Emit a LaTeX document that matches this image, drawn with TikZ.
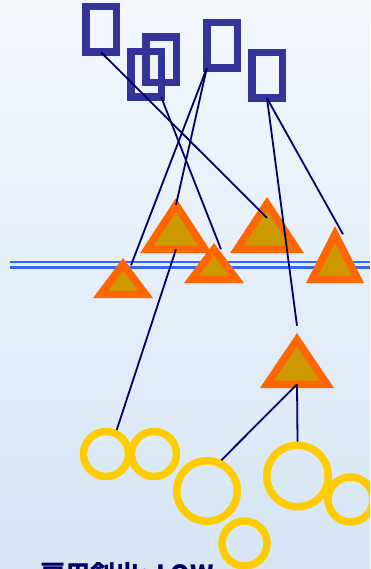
\documentclass[tikz,border=0pt]{standalone}
\usepackage{fontspec}
\newfontfamily\jpfont{Noto Sans CJK JP}
\usetikzlibrary{shapes.geometric,calc}

\definecolor{sqnavy}{HTML}{333399}
\definecolor{linknavy}{HTML}{000066}
\definecolor{triorange}{HTML}{FF6600}
\definecolor{trigold}{HTML}{CC9900}
\definecolor{ringgold}{HTML}{FFCC00}
\definecolor{railblue}{HTML}{3366FF}
\definecolor{bgtop}{HTML}{F3F7FC}
\definecolor{bgbot}{HTML}{D6E6F5}

\begin{document}
\begin{tikzpicture}[
  x=1pt, y=-1pt,
  sq/.style={draw=sqnavy, line width=7.5pt, inner sep=0pt, outer sep=0pt,
             minimum width=30.5pt, minimum height=45.5pt},
  tri/.style={isosceles triangle, shape border rotate=90,
              isosceles triangle stretches, draw=triorange, fill=trigold,
              line width=7.5pt, inner sep=0pt, outer sep=0pt, anchor=apex},
  ring/.style={circle, draw=ringgold, line width=7.5pt, inner sep=0pt},
  link/.style={draw=linknavy, line width=1.8pt},
  rail/.style={draw=railblue, line width=2.7pt},
]
\useasboundingbox (0,0) rectangle (370,569);
\clip (0,0) rectangle (370,569);
\shade[top color=bgtop, bottom color=bgbot] (0,0) rectangle (370,569);

% double rail
\draw[rail] (10,262) -- (370,262);
\draw[rail] (10,267.3) -- (370,267.3);

% squares
\node[sq] (r1) at (101,29.5) {};
\node[sq] (r2) at (146,74.5) {};
\node[sq] (r3) at (161,60) {};
\node[sq] (r4) at (222,45.5) {};
\node[sq] (r5) at (267,75.5) {};

% triangles
\node[tri, minimum width=45pt, minimum height=30pt] (t1) at (123,264.3) {};
\node[tri, minimum width=58pt, minimum height=44.4pt] (t2) at (176,204.9) {};
\node[tri, minimum width=45pt, minimum height=30pt] (t3) at (214,249.3) {};
\node[tri, minimum width=60pt, minimum height=45.5pt] (t4) at (267,203.8) {};
\node[tri, minimum width=45.8pt, minimum height=45pt] (t5) at (335,234.3) {};
\node[tri, minimum width=60pt, minimum height=44.5pt] (t6) at (297,339.8) {};

% rings
\node[ring, minimum size=45pt] (c1) at (106,454) {};
\node[ring, minimum size=45pt] (c2) at (154,454) {};
\node[ring, minimum size=60.5pt] (c3) at (207,491) {};
\node[ring, minimum size=45pt] (c4) at (244.5,543.5) {};
\node[ring, minimum size=61.5pt] (c5) at (297.5,476) {};
\node[ring, minimum size=45pt] (c6) at (350.5,499.5) {};

% links
\draw[link] (r1.south) -- ($(t4.apex)+(0,14)$);
\draw[link] (r2.south east) -- ($(t3.apex)+(7,0)$);
\draw[link] (r4.south west) -- ($(t1.apex)+(8,1)$);
\draw[link] (r4.south west) -- (t2.apex);
\draw[link] (r5.south) -- ($(t6.apex)+(0,-14)$);
\draw[link] (r5.south) -- ($(t5.apex)+(8,0)$);
\draw[link] (t2.lower side) -- (c1.66);
\draw[link] (t6.lower side) -- (c3.65);
\draw[link] (t6.lower side) -- (c5.north);

\node[anchor=base west, inner sep=0pt, text=linknavy,
      font=\jpfont\bfseries\fontsize{25}{30}\selectfont] (caption) at (40,583)
  {雇用創出: LOW};
\end{tikzpicture}
\end{document}
